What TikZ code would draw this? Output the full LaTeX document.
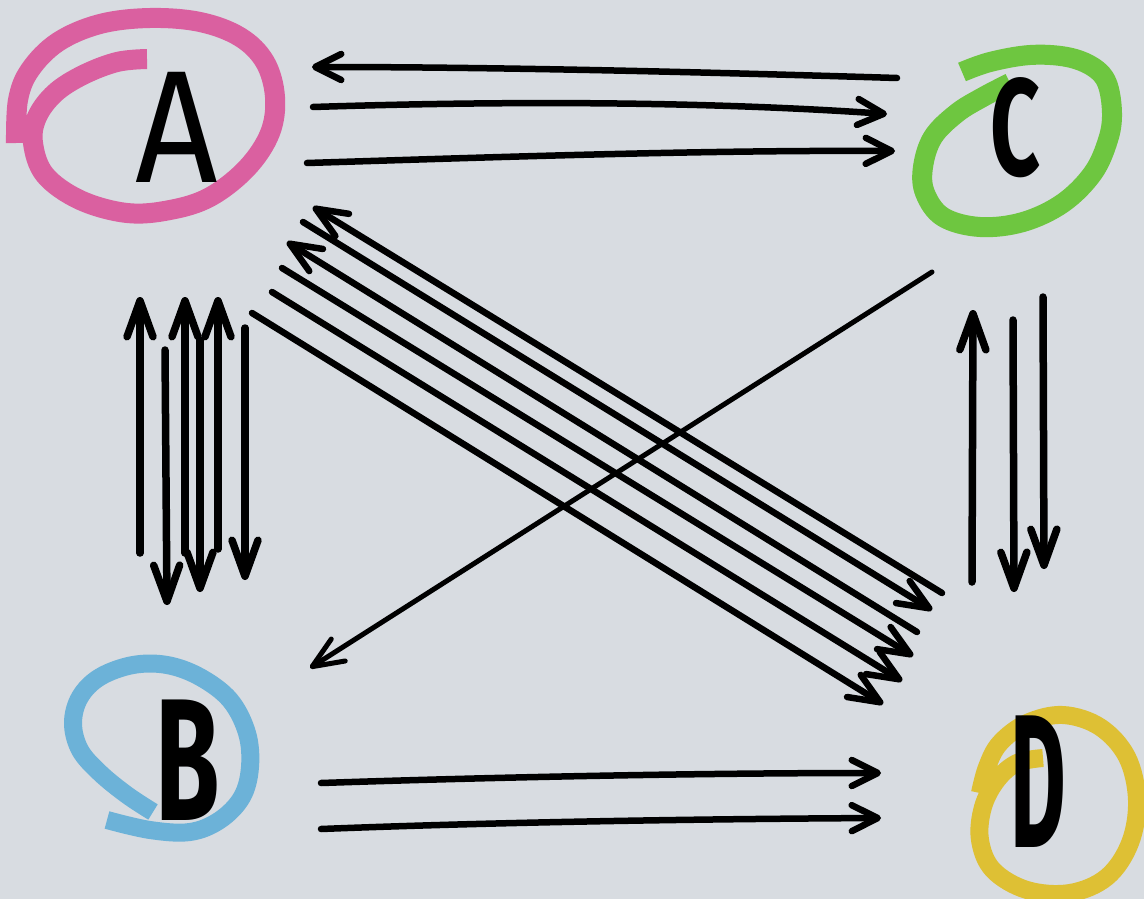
\documentclass[tikz,border=0pt]{standalone}
\usepackage{fontspec}
\setmainfont{Fira Sans}
\usetikzlibrary{arrows.meta,calc}
\definecolor{bg}{RGB}{216,220,225}
\definecolor{ringA}{RGB}{218,96,160}
\definecolor{ringB}{RGB}{108,178,216}
\definecolor{ringC}{RGB}{110,198,64}
\definecolor{ringD}{RGB}{222,192,52}
\tikzset{
  ring/.style={line width=20pt, line cap=butt, line join=round},
  letter/.style={inner sep=0pt, text=black},
  shaft/.style={line width=6.5pt, line cap=round, line join=round, black},
  arrV/.style={shaft, line width=7.5pt, -{Straight Barb[length=36pt,width=26pt,line cap=round,line join=round]}},
  arrH/.style={shaft, -{Straight Barb[length=26pt,width=26pt,line cap=round,line join=round]}},
  arrD/.style={shaft, -{Straight Barb[length=31pt,width=26pt,line cap=round,line join=round]}},
}
\begin{document}
\begin{tikzpicture}[x=1pt,y=-1pt]
\fill[bg] (0,0) rectangle (1144,899);
\useasboundingbox (0,0) rectangle (1144,899);

% ---- marker rings ----
\draw[ring, ringA] plot[smooth, tension=0.6] coordinates {(147,59) (117,62) (83,75) (55,93) (37,117) (33,143) (45,175) (80,200) (127,213) (170,210) (210,197) (247,168) (270,133) (275,97) (265,62) (240,37) (200,22) (150,18) (100,24) (58,42) (30,70) (18,100) (16,143)};
\draw[ring, ringC] plot[smooth, tension=0.6] coordinates {(962,72) (990,62) (1030,55) (1067,57) (1093,67) (1107,83) (1112,113) (1108,140) (1093,173) (1063,203) (1023,222) (980,227) (943,217) (925,193) (923,167) (933,137) (957,113) (983,97) (1010,83)};
\draw[ring, ringB, line width=18pt] plot[smooth, tension=0.6] coordinates {(153,812) (127,795) (100,773) (80,750) (73,723) (80,697) (100,677) (133,665) (167,665) (200,677) (230,700) (247,733) (250,767) (242,797) (220,820) (190,832) (150,830) (107,820)};
\draw[ring, ringD, line width=18pt] plot[smooth, tension=0.6] coordinates {(1043,758) (1017,763) (997,780) (983,807) (980,840) (993,870) (1027,890) (1070,893) (1107,877) (1130,843) (1137,800) (1127,757) (1100,727) (1063,715) (1027,723) (1000,743) (987,767) (980,793)};

% ---- letters ----
\node[letter, font=\fontsize{160}{160}\selectfont, xscale=0.9] (A) at (177,127) {A};
\node[letter, font=\bfseries\fontsize{138}{138}\selectfont, xscale=0.63] (C) at (1015,128) {C};
\node[letter, font=\bfseries\fontsize{174}{174}\selectfont, xscale=0.6] (B) at (188,760) {B};
\node[letter, font=\bfseries\fontsize{190}{190}\selectfont, xscale=0.45] (D) at (1038,782) {D};

% ---- connector end points ----
\coordinate (ca1s) at (897,78);  \coordinate (ca1e) at (312,67);
\coordinate (ac2s) at (313,107); \coordinate (ac2e) at (887,114);
\coordinate (ac3s) at (307,163); \coordinate (ac3e) at (895,151);
\coordinate (bd1s) at (321,783); \coordinate (bd1e) at (881,773);
\coordinate (bd2s) at (321,829); \coordinate (bd2e) at (881,818);
\coordinate (bau1s) at (140,553); \coordinate (bau1e) at (140,297);
\coordinate (abd1s) at (165,350); \coordinate (abd1e) at (167,605);
\coordinate (bau2s) at (185,553); \coordinate (bau2e) at (185,297);
\coordinate (abd2s) at (200,340); \coordinate (abd2e) at (200,592);
\coordinate (bau3s) at (218,549); \coordinate (bau3e) at (218,297);
\coordinate (abd3s) at (245,328); \coordinate (abd3e) at (245,580);
\coordinate (dcus) at (972,582);  \coordinate (dcue) at (973,310);
\coordinate (cdd1s) at (1013,320); \coordinate (cdd1e) at (1014,592);
\coordinate (cdd2s) at (1043,297); \coordinate (cdd2e) at (1044,569);
\coordinate (da1s) at (942,593); \coordinate (da1e) at (313,207);
\coordinate (ad2s) at (303,222); \coordinate (ad2e) at (932,610);
\coordinate (da3s) at (917,632); \coordinate (da3e) at (287,242);
\coordinate (ad4s) at (282,268); \coordinate (ad4e) at (913,656);
\coordinate (ad5s) at (272,292); \coordinate (ad5e) at (902,681);
\coordinate (ad6s) at (252,313); \coordinate (ad6e) at (883,704);
\coordinate (cbs) at (932,272);  \coordinate (cbe) at (310,668);

% ---- A <-> C ----
\draw[arrH] (ca1s) .. controls (700,72) and (500,67) .. (ca1e);
\draw[arrH] (ac2s) .. controls (500,101) and (700,101) .. (ac2e);
\draw[arrH] (ac3s) .. controls (500,157) and (700,150) .. (ac3e);
% ---- B -> D ----
\draw[arrH] (bd1s) .. controls (500,777) and (700,773) .. (bd1e);
\draw[arrH] (bd2s) .. controls (500,822) and (700,819) .. (bd2e);
% ---- A <-> B ----
\draw[arrV] (bau1s) -- (bau1e);
\draw[arrV] (abd1s) -- (abd1e);
\draw[arrV] (bau2s) -- (bau2e);
\draw[arrV] (abd2s) -- (abd2e);
\draw[arrV] (bau3s) -- (bau3e);
\draw[arrV] (abd3s) -- (abd3e);
% ---- C <-> D ----
\draw[arrV] (dcus) -- (dcue);
\draw[arrV] (cdd1s) -- (cdd1e);
\draw[arrV] (cdd2s) -- (cdd2e);
% ---- A <-> D ----
\draw[arrD] (da1s) -- (da1e);
\draw[arrD] (ad2s) -- (ad2e);
\draw[arrD] (da3s) -- (da3e);
\draw[arrD] (ad4s) -- (ad4e);
\draw[arrD] (ad5s) -- (ad5e);
\draw[arrD] (ad6s) -- (ad6e);
% ---- C -> B ----
\draw[arrD, line width=5pt] (cbs) -- (cbe);
\end{tikzpicture}
\end{document}
